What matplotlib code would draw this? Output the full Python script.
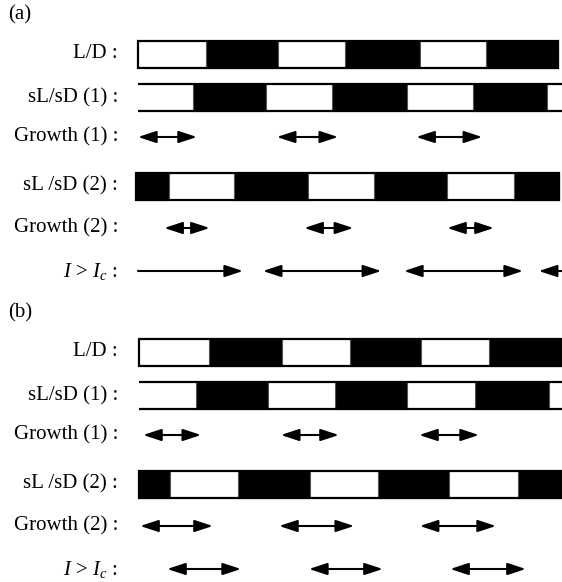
import matplotlib
matplotlib.use('Agg')
import matplotlib.pyplot as plt
from matplotlib.patches import Rectangle, FancyArrowPatch
from matplotlib.transforms import blended_transform_factory

plt.rcParams['font.family'] = ['Liberation Serif', 'DejaVu Serif']
plt.rcParams['mathtext.fontset'] = 'custom'
plt.rcParams['mathtext.rm'] = 'Liberation Serif'
plt.rcParams['mathtext.it'] = 'Liberation Serif:italic'

# switch times (hours) for each light/dark bar, first segment light unless noted
LD_A = [0, 11.7, 24.0, 35.5, 48.3, 59.7, 72.0]
SLSD1_A = [0, 9.4, 21.9, 33.3, 46.1, 57.4, 70.1, 72.7]
SLSD2_A = [-0.3, 5.3, 16.5, 29.1, 40.5, 53.0, 64.5, 72.2]   # starts dark
GROWTH1_A = [(0, 10.1), (23.8, 34.3), (47.7, 59.0)]
GROWTH2_A = [(4.5, 12.3), (28.5, 36.9), (53.0, 61.0)]
ABOVE_IC_A = [(0, 18.0), (21.4, 41.7), (45.6, 66.0), (68.7, 72.7)]
ABOVE_IC_A_HEADS = ['-|>', '<|-|>', '<|-|>', '<|-']

LD_B = [0, 11.9, 24.4, 36.0, 48.1, 59.7, 72.0]
SLSD1_B = [0, 9.7, 22.0, 33.4, 45.7, 57.3, 70.0, 72.2]
SLSD2_B = [0, 5.3, 16.9, 29.2, 40.8, 52.9, 64.7, 72.2]     # starts dark
GROWTH1_B = [(0.7, 10.6), (24.2, 34.1), (47.8, 58.0)]
GROWTH2_B = [(0.2, 12.6), (23.9, 36.7), (47.9, 60.9)]
ABOVE_IC_B = [(4.8, 17.4), (29.0, 41.6), (53.1, 66.0)]
ABOVE_IC_B_HEADS = ['<|-|>', '<|-|>', '<|-|>']

ROW_LABELS_A = ['L/D :', 'sL/sD (1) :', 'Growth (1) :', 'sL /sD (2) :',
                'Growth (2) :', r'$I$ > $I_c$ :']
ROW_LABELS_B = ['L/D :', 'sL/sD (1) :', 'Growth (1) :', 'sL /sD (2) :',
                'Growth (2) :', r'$I$ > $I_c$ :']

# layout (pixels)
W, H = 562, 582
ROW_Y = [54, 97.5, 137, 186, 228, 271]
BAR_H = 27
FS = 15


def draw_bar(ax, y, bounds, first_dark, style):
    dark = first_dark
    for a, b in zip(bounds[:-1], bounds[1:]):
        if dark:
            ax.add_patch(Rectangle((a, y - BAR_H / 2), b - a, BAR_H,
                                   facecolor='black', edgecolor='#555555', lw=0.8))
        dark = not dark
    if style == 'box':
        ax.add_patch(Rectangle((bounds[0], y - BAR_H / 2), bounds[-1] - bounds[0], BAR_H,
                               fill=False, edgecolor='black', lw=1.6))
    else:
        ax.hlines([y - BAR_H / 2, y + BAR_H / 2], bounds[0], bounds[-1],
                  color='black', lw=1.6)


def draw_arrows(ax, y, spans, heads=None):
    for i, (a, b) in enumerate(spans):
        style = heads[i] if heads else '<|-|>'
        ax.add_patch(FancyArrowPatch((a, y), (b, y),
                                     arrowstyle=style + ',head_length=11,head_width=3.6',
                                     mutation_scale=1, shrinkA=0, shrinkB=0,
                                     color='black', lw=1.5))


def draw_panel(ax, tag, labels, ld, slsd1, slsd2, g1, g2, ic, ic_heads, x0, px_per_h, h_px):
    ax.set_xlim(-x0 / px_per_h, (W - x0) / px_per_h)
    ax.set_ylim(h_px, 0)
    ax.axis('off')
    tr = blended_transform_factory(ax.transAxes, ax.transData)
    for lab, y in zip(labels, ROW_Y):
        ax.text(118 / W, y, lab, transform=tr, ha='right', va='center', fontsize=FS)
    ax.text(8 / W, 15, tag, transform=tr, ha='left', va='center', fontsize=FS)
    draw_bar(ax, ROW_Y[0], ld, False, 'box')
    draw_bar(ax, ROW_Y[1], slsd1, False, 'lines')
    draw_arrows(ax, ROW_Y[2], g1)
    draw_bar(ax, ROW_Y[3], slsd2, True, 'box')
    draw_arrows(ax, ROW_Y[4], g2)
    draw_arrows(ax, ROW_Y[5], ic, ic_heads)


fig = plt.figure(figsize=(W / 100, H / 100), dpi=100)
ax_a = fig.add_axes([0, 1 - 291 / H, 1, 291 / H])
ax_b = fig.add_axes([0, 0, 1, 284 / H])

draw_panel(ax_a, '(a)', ROW_LABELS_A, LD_A, SLSD1_A, SLSD2_A, GROWTH1_A, GROWTH2_A,
           ABOVE_IC_A, ABOVE_IC_A_HEADS, 138, 420 / 72, 291)
draw_panel(ax_b, '(b)', ROW_LABELS_B, LD_B, SLSD1_B, SLSD2_B, GROWTH1_B, GROWTH2_B,
           ABOVE_IC_B, ABOVE_IC_B_HEADS, 139, 422 / 72, 284)

fig.savefig('out.png', dpi=100)
